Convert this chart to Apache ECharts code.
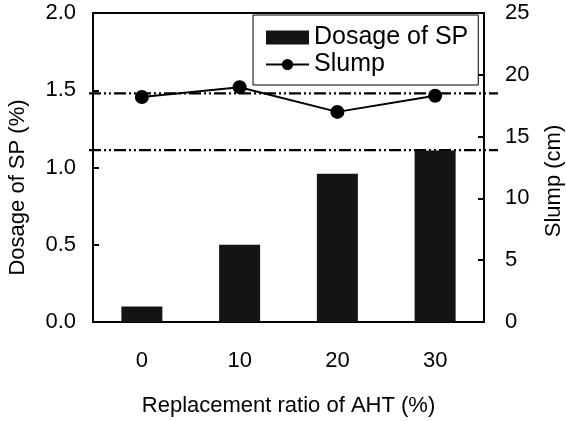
<!DOCTYPE html>
<html>
<head>
<meta charset="utf-8">
<script src="https://cdn.jsdelivr.net/npm/echarts@6/dist/echarts.min.js"></script>
<style>
  html, body { margin: 0; padding: 0; background: #fff; }
  #chart { width: 566px; height: 421px; }
</style>
</head>
<body>
<div id="chart"></div>
<script>
// Replacement ratio of AHT (%)
const categories = ['0', '10', '20', '30'];
// Superplasticizer dosage (%), left axis
const dosageSP = [0.10, 0.50, 0.96, 1.11];
// Slump (cm), right axis
const slump = [18.2, 19.0, 17.0, 18.3];
// Horizontal reference levels, in slump units (cm)
const refLevels = [18.5, 13.9];

const FONT = "'Liberation Sans', Arial, sans-serif";
const dashDotDot = [12, 3, 2, 3, 2, 3];

const chart = echarts.init(document.getElementById('chart'), null, { renderer: 'canvas' });

const refSeries = refLevels.map(v => ({
  type: 'line',
  xAxisIndex: 1,
  yAxisIndex: 2,
  data: [[0, v], [1, v]],
  symbol: 'none',
  silent: true,
  z: 1,
  lineStyle: { color: '#000', width: 2.2, type: dashDotDot }
}));

chart.setOption({
  animation: false,
  backgroundColor: '#fff',
  textStyle: { fontFamily: FONT, color: '#000' },
  grid: [
    { left: 93, right: 82, top: 13, bottom: 99, outerBoundsMode: 'none', containLabel: false,
      show: true, borderColor: '#000', borderWidth: 2, backgroundColor: 'transparent' },
    { left: 89, right: 68, top: 13, bottom: 99, outerBoundsMode: 'none', containLabel: false }
  ],
  legend: {
    data: [
      { name: 'Dosage of SP', icon: 'rect' },
      { name: 'Slump' }
    ],
    orient: 'vertical',
    left: 253,
    top: 15,
    padding: [10, 10, 8, 12],
    itemGap: 2,
    itemWidth: 43,
    itemHeight: 14,
    borderColor: '#000',
    borderWidth: 1,
    backgroundColor: '#fff',
    textStyle: { fontFamily: FONT, fontSize: 25, color: '#000' }
  },
  xAxis: [
    {
      type: 'category',
      gridIndex: 0,
      data: categories,
      boundaryGap: true,
      axisLine: { lineStyle: { color: '#000', width: 2 } },
      axisTick: { show: false },
      axisLabel: { fontFamily: FONT, fontSize: 22, color: '#000', margin: 28 },
      name: 'Replacement ratio of AHT (%)',
      nameLocation: 'middle',
      nameGap: 73,
      nameTextStyle: { fontFamily: FONT, fontSize: 22, color: '#000' }
    },
    { type: 'value', gridIndex: 1, min: 0, max: 1, show: false }
  ],
  yAxis: [
    {
      type: 'value',
      gridIndex: 0,
      position: 'left',
      min: 0, max: 2, interval: 0.5,
      axisLine: { show: true, lineStyle: { color: '#000', width: 2 } },
      axisTick: { show: true, inside: true, length: 6, lineStyle: { color: '#000', width: 2 } },
      splitLine: { show: false },
      axisLabel: { fontFamily: FONT, fontSize: 22, color: '#000', margin: 17, formatter: v => v.toFixed(1) },
      name: 'Dosage of SP (%)',
      nameLocation: 'middle',
      nameGap: 64,
      nameRotate: 90,
      nameTextStyle: { fontFamily: FONT, fontSize: 22, color: '#000', padding: [0, 40, 0, 0] }
    },
    {
      type: 'value',
      gridIndex: 0,
      position: 'right',
      min: 0, max: 25, interval: 5,
      axisLine: { show: true, lineStyle: { color: '#000', width: 2 } },
      axisTick: { show: true, inside: true, length: 6, lineStyle: { color: '#000', width: 2 } },
      splitLine: { show: false },
      axisLabel: { fontFamily: FONT, fontSize: 22, color: '#000', margin: 21 },
      name: 'Slump (cm)',
      nameLocation: 'middle',
      nameGap: 59,
      nameRotate: 90,
      nameTextStyle: { fontFamily: FONT, fontSize: 22, color: '#000', padding: [0, 27, 0, 0] }
    },
    { type: 'value', gridIndex: 1, min: 0, max: 25, show: false }
  ],
  series: [
    {
      name: 'Dosage of SP',
      type: 'bar',
      xAxisIndex: 0,
      yAxisIndex: 0,
      data: dosageSP,
      barWidth: 41,
      itemStyle: { color: '#141414' },
      z: 2
    },
    ...refSeries,
    {
      name: 'Slump',
      type: 'line',
      xAxisIndex: 0,
      yAxisIndex: 1,
      data: slump,
      symbol: 'circle',
      symbolSize: 14,
      itemStyle: { color: '#000' },
      lineStyle: { color: '#000', width: 2 },
      z: 3
    }
  ]
});
</script>
</body>
</html>
